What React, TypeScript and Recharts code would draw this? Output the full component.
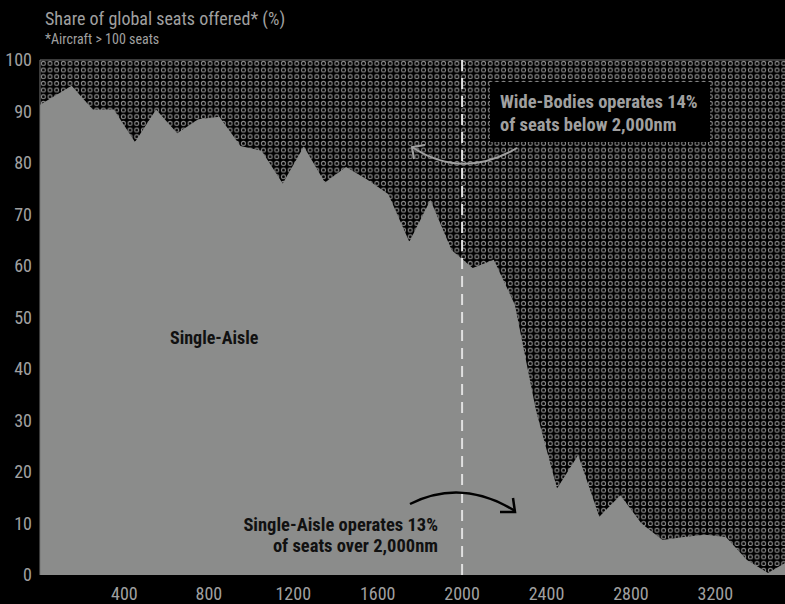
import { ComposedChart, Area, XAxis, YAxis, CartesianGrid, ReferenceLine } from 'recharts';

// distance flown (nm), sampled mid-bucket
const distances = [
  0, 150, 250, 350, 450, 550, 650, 750, 850, 950, 1050, 1150, 1250, 1350, 1450, 1550, 1650, 1750,
  1850, 1950, 2050, 2150, 2250, 2350, 2450, 2550, 2650, 2750, 2850, 2950, 3050, 3150, 3250, 3350,
  3450, 3550,
];

// single-aisle share of global seats offered (%)
const singleAisleShare = [
  91.3, 95, 90.4, 90.4, 84.1, 90.4, 85.8, 88.5, 89, 83.3, 82.4, 76, 83.2, 76.2, 79.2, 76.8, 74, 64.7,
  72.8, 63.1, 59.6, 61.2, 52.5, 32, 16.8, 23.3, 11.3, 15.5, 10, 6.8, 7.4, 7.8, 7.4, 2.9, 0.4, 2.8,
];

const xTicks = [400, 800, 1200, 1600, 2000, 2400, 2800, 3200];
const yTicks = [0, 10, 20, 30, 40, 50, 60, 70, 80, 90, 100];

const chartData = distances.map((d, i) => ({ distance: d, share: singleAisleShare[i] }));

const FONT = "'Liberation Sans Narrow', 'Roboto Condensed', 'DejaVu Sans Condensed', sans-serif";
const GREY_TEXT = '#a0a0a0';
const AREA_FILL = '#8b8c8b';

const App = () => {
  return (
    <div
      style={{
        position: 'absolute',
        top: 0,
        left: 0,
        width: 785,
        height: 604,
        background: '#000',
        fontFamily: FONT,
        overflow: 'hidden',
      }}
    >
      <ComposedChart
        width={785}
        height={604}
        data={chartData}
        margin={{ top: 60, right: 0, bottom: 0, left: 0 }}
        style={{ fontFamily: FONT }}
      >
        <defs>
          <pattern id="dots" width={6.67} height={6.67} patternUnits="userSpaceOnUse">
            <rect width={6.67} height={6.67} fill="#000" />
            <circle cx={3.33} cy={3.33} r={2} fill="none" stroke="#8a8a8a" strokeWidth={1} />
          </pattern>
        </defs>
        <CartesianGrid horizontal={false} vertical={false} fill="url(#dots)" />
        <XAxis
          type="number"
          dataKey="distance"
          domain={[0, 3530]}
          allowDataOverflow
          ticks={xTicks}
          axisLine={false}
          tickLine={false}
          tickMargin={6}
          height={29}
          tick={{ fill: GREY_TEXT, fontSize: 18 }}
        />
        <YAxis
          type="number"
          domain={[0, 100]}
          ticks={yTicks}
          width={40}
          axisLine={{ stroke: '#777' }}
          tickLine={false}
          tick={{ fill: GREY_TEXT, fontSize: 18 }}
        />
        <ReferenceLine y={100} stroke="#777" />
        <Area
          type="linear"
          dataKey="share"
          stroke="none"
          fill={AREA_FILL}
          fillOpacity={1}
          isAnimationActive={false}
        />
        <ReferenceLine x={2000} stroke="#e0e0e0" strokeWidth={2} strokeDasharray="11 7" />
      </ComposedChart>

      <svg
        width={785}
        height={604}
        style={{ position: 'absolute', top: 0, left: 0, pointerEvents: 'none' }}
      >
        <text x={45} y={25} fill={GREY_TEXT} fontSize={18} fontFamily={FONT}>
          Share of global seats offered* (%)
        </text>
        <text x={45} y={44} fill={GREY_TEXT} fontSize={14} fontFamily={FONT}>
          *Aircraft &gt; 100 seats
        </text>

        <rect x={490} y={82} width={220} height={60} fill="#000" />
        <text x={500} y={108} fill={GREY_TEXT} fontSize={18.5} fontWeight="bold" fontFamily={FONT}>
          Wide-Bodies operates 14%
        </text>
        <text x={500} y={131} fill={GREY_TEXT} fontSize={18.5} fontWeight="bold" fontFamily={FONT}>
          of seats below 2,000nm
        </text>
        <path d="M517,148 Q462,180 412,147" fill="none" stroke={GREY_TEXT} strokeWidth={2} />
        <path d="M425,145 L412,147 L414,159" fill="none" stroke={GREY_TEXT} strokeWidth={2} />

        <text x={170} y={344} fill="#111" fontSize={18} fontWeight="bold" fontFamily={FONT}>
          Single-Aisle
        </text>

        <text x={438} y={531} fill="#111" fontSize={18.5} fontWeight="bold" fontFamily={FONT} textAnchor="end">
          Single-Aisle operates 13%
        </text>
        <text x={438} y={552} fill="#111" fontSize={18.5} fontWeight="bold" fontFamily={FONT} textAnchor="end">
          of seats over 2,000nm
        </text>
        <path d="M410,504 Q462,478 515,511" fill="none" stroke="#000" strokeWidth={2.5} />
        <path d="M500,512 L515,512 L513,498" fill="none" stroke="#000" strokeWidth={2.5} />
      </svg>
    </div>
  );
};

export default App;
